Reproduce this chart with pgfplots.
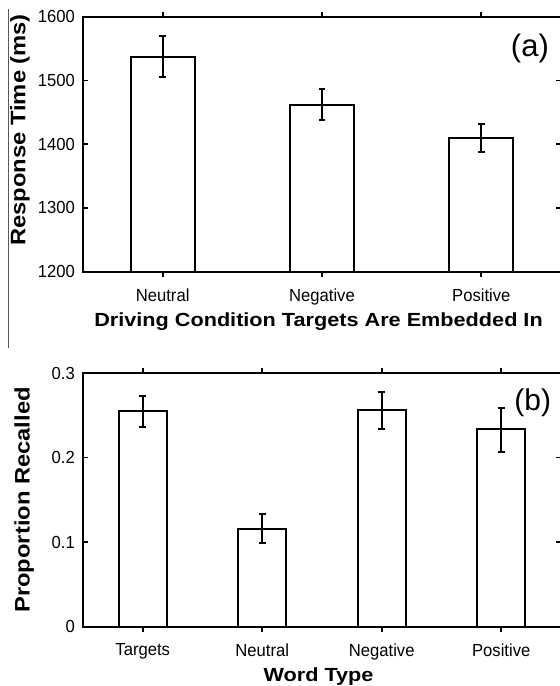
\documentclass[border=0pt]{standalone}
\usepackage{pgfplots}
\pgfplotsset{compat=1.18}
\usepackage{fontspec}
\setmainfont{Liberation Sans}
\newfontfamily\ylabfont[FakeStretch=1.13]{Liberation Sans}
\newfontfamily\xlabfont[FakeStretch=1.14]{Liberation Sans}
\newfontfamily\tickfont[FakeStretch=0.95]{Liberation Sans}

\pgfplotstableread{
x y ep em
1 1537 32 32
2 1462 24 24
3 1410 22 22
}\tabA
\pgfplotstableread{
x y ep em
1 0.255 0.018 0.019
2 0.116 0.017 0.017
3 0.256 0.022 0.022
4 0.234 0.025 0.027
}\tabB

\pgfplotsset{
  myaxis/.style={
    scale only axis, width=478pt,
    axis line style={line width=2pt, black},
    tick align=inside, major tick length=5pt,
    tick style={line width=1.8pt, black},
    ybar, bar width=0.4,
    axis on top,
    /pgf/number format/assume math mode=true,
    /pgf/number format/1000 sep={},
    tick label style={font=\tickfont\fontsize{17.5}{17.5}\selectfont},
    yticklabel style={inner sep=0pt, xshift=-8pt},
    xticklabel style={inner sep=0pt, yshift=-11.5pt, anchor=north},
    xlabel style={anchor=north, inner sep=0pt, font=\xlabfont\bfseries\fontsize{19}{19}\selectfont},
    ylabel style={anchor=north, inner sep=0pt, font=\ylabfont\bfseries\fontsize{21}{21}\selectfont},
  },
  mybar/.style={
    draw=black, fill=white, line width=2pt,
    error bars/.cd, y dir=both, y explicit,
    error bar style={line width=2pt, black},
    error mark options={rotate=90, mark size=3.4pt, line width=2pt, black},
  },
}

\begin{document}
\begin{tikzpicture}
\useasboundingbox (0,0) rectangle (560pt,686pt);
\fill[white] (0,0) rectangle (560pt,686pt);
\draw[black!65, line width=1.5pt] (8.5pt,677pt) -- (8.5pt,338pt);

% panel (a)
\begin{axis}[myaxis,
  at={(83pt,414.3pt)}, anchor=south west, height=255pt,
  xmin=0.5, xmax=3.5, ymin=1200, ymax=1600,
  xtick={1,2,3}, xticklabels={Neutral,Negative,Positive},
  ytick={1200,1300,1400,1500,1600},
  xlabel={Driving Condition Targets Are Embedded In},
  xlabel style={at={(axis description cs:0.4927,-0.1600)}},
  ylabel={Response Time (ms)},
  ylabel style={at={(axis description cs:-0.1527,0.556)}},
]
\addplot[mybar] table[x=x, y=y, y error plus=ep, y error minus=em] {\tabA};
\node[font=\fontsize{31}{31}\selectfont, inner sep=0pt] at (axis description cs:0.935,0.875) {(a)};
\end{axis}

% panel (b)
\begin{axis}[myaxis,
  at={(83pt,59.3pt)}, anchor=south west, height=253.7pt,
  xmin=0.5, xmax=4.5, ymin=0, ymax=0.3,
  xtick={1,2,3,4}, xticklabels={Targets,Neutral,Negative,Positive},
  ytick={0,0.1,0.2,0.3},
  yticklabels={0,0.1,0.2,0.3},
  xlabel={Word Type},
  xlabel style={at={(axis description cs:0.4927,-0.1590)}},
  ylabel={Proportion Recalled},
  ylabel style={at={(axis description cs:-0.1437,0.5)}},
]
\addplot[mybar] table[x=x, y=y, y error plus=ep, y error minus=em] {\tabB};
\node[font=\fontsize{30}{30}\selectfont, inner sep=0pt] at (axis description cs:0.941,0.882) {(b)};
\end{axis}
\end{tikzpicture}
\end{document}
